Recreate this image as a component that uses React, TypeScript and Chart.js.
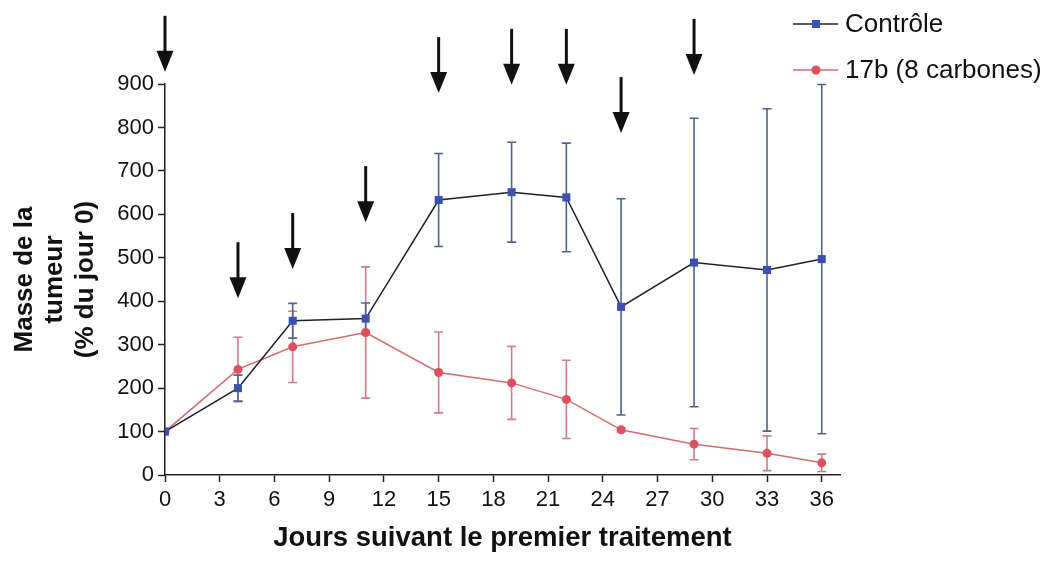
import React, { useEffect, useRef } from "react";
import { Chart, registerables } from "chart.js";
Chart.register(...registerables);

const days = [0, 4, 7, 11, 15, 19, 22, 25, 29, 33, 36];
const controlValues = [100, 200, 355, 360, 633, 651, 639, 387, 489, 472, 497];
const controlErrors = [0, 30, 40, 36, 107, 115, 125, 249, 332, 371, 402];
const treatedValues = [100, 243, 295, 328, 236, 212, 174, 104, 71, 50, 28];
const treatedErrors = [0, 74, 82, 151, 93, 84, 90, 5, 36, 40, 20];
const arrowDays = [0, 4, 7, 11, 15, 19, 22, 25, 29];
const arrowTipValues = [928, 407, 474, 582, 879, 898, 898, 787, 921];
const xTicks = [0, 3, 6, 9, 12, 15, 18, 21, 24, 27, 30, 33, 36];
const seriesLabels = ["Contrôle", "17b (8 carbones)"];
const xTitle = "Jours suivant le premier traitement";
const yTitle = ["Masse de la", "tumeur", "(% du jour 0)"];

const FONT = "'Liberation Sans', Arial, Helvetica, sans-serif";
const BLUE = "#3b50b4";
const BLUE_LINE = "#1e2030";
const BLUE_ERR = "#4f6390";
const RED = "#e0505c";
const RED_LINE = "#d46a72";
const RED_ERR = "#cf7e86";

export default function App() {
  const ref = useRef<HTMLCanvasElement>(null);

  useEffect(() => {
    document.body.style.margin = "0";
    const canvas = ref.current;
    if (!canvas) return;

    const errorBars = {
      id: "errorBars",
      beforeDatasetsDraw(chart: any) {
        const c = chart.ctx;
        const ys = chart.scales.y;
        const order = [1, 0];
        order.forEach((di) => {
          const ds: any = chart.data.datasets[di];
          const meta = chart.getDatasetMeta(di);
          const errs: number[] = ds.errors;
          c.save();
          c.strokeStyle = ds.errorColor;
          c.lineWidth = 1.6;
          meta.data.forEach((pt: any, i: number) => {
            const e = errs[i];
            if (!e) return;
            const v = ds.data[i].y;
            const yTop = ys.getPixelForValue(v + e);
            const yBot = ys.getPixelForValue(Math.max(v - e, 0));
            const x = pt.x;
            c.beginPath();
            c.moveTo(x, yTop);
            c.lineTo(x, yBot);
            c.moveTo(x - 4.5, yTop);
            c.lineTo(x + 4.5, yTop);
            c.moveTo(x - 4.5, yBot);
            c.lineTo(x + 4.5, yBot);
            c.stroke();
          });
          c.restore();
        });
      },
    };

    const arrows = {
      id: "arrows",
      afterDraw(chart: any) {
        const c = chart.ctx;
        const xs = chart.scales.x;
        const ys = chart.scales.y;
        c.save();
        c.fillStyle = "#111";
        c.strokeStyle = "#111";
        arrowDays.forEach((d, i) => {
          const x = xs.getPixelForValue(d);
          const tip = ys.getPixelForValue(arrowTipValues[i]);
          c.lineWidth = 3;
          c.beginPath();
          c.moveTo(x, tip - 56);
          c.lineTo(x, tip - 18);
          c.stroke();
          c.beginPath();
          c.moveTo(x - 8.5, tip - 21);
          c.lineTo(x + 8.5, tip - 21);
          c.lineTo(x, tip);
          c.closePath();
          c.fill();
        });
        c.restore();
      },
    };

    const legend = {
      id: "customLegend",
      afterDraw(chart: any) {
        const c = chart.ctx;
        c.save();
        const rows = [24, 70];
        chart.data.datasets.forEach((ds: any, i: number) => {
          const y = rows[i];
          c.strokeStyle = ds.borderColor;
          c.lineWidth = 1.5;
          c.beginPath();
          c.moveTo(793, y);
          c.lineTo(838, y);
          c.stroke();
          c.fillStyle = ds.pointBackgroundColor;
          if (ds.pointStyle === "rect") {
            c.fillRect(812, y - 4, 8, 8);
          } else {
            c.beginPath();
            c.arc(816, y, 4.5, 0, Math.PI * 2);
            c.fill();
          }
          c.fillStyle = "#111";
          c.font = `26px ${FONT}`;
          c.textAlign = "left";
          c.textBaseline = "middle";
          c.fillText(ds.label, 845, y + 1);
        });
        c.restore();
      },
    };

    const chart = new Chart(canvas, {
      type: "line",
      data: {
        datasets: [
          {
            label: seriesLabels[0],
            data: days.map((d, i) => ({ x: d, y: controlValues[i] })),
            borderColor: BLUE_LINE,
            borderWidth: 1.5,
            pointStyle: "rect",
            pointRadius: 5.7,
            pointBackgroundColor: BLUE,
            pointBorderColor: BLUE,
            pointBorderWidth: 0,
            errors: controlErrors,
            errorColor: BLUE_ERR,
          } as any,
          {
            label: seriesLabels[1],
            data: days.map((d, i) => ({ x: d, y: treatedValues[i] })),
            borderColor: RED_LINE,
            borderWidth: 1.5,
            pointStyle: "circle",
            pointRadius: 4.5,
            pointBackgroundColor: RED,
            pointBorderColor: RED,
            pointBorderWidth: 0,
            errors: treatedErrors,
            errorColor: RED_ERR,
          } as any,
        ],
      },
      options: {
        responsive: false,
        animation: false,
        devicePixelRatio: 1,
        layout: { padding: { top: 84, right: 213, left: 0, bottom: 0 } },
        plugins: {
          legend: { display: false },
          tooltip: { enabled: false },
        },
        scales: {
          x: {
            type: "linear",
            min: 0,
            max: 37,
            afterBuildTicks(scale: any) {
              scale.ticks = xTicks.map((v) => ({ value: v }));
            },
            afterFit(scale: any) {
              scale.height = 93;
            },
            ticks: {
              color: "#111",
              font: { family: FONT, size: 22 },
              padding: 5,
              maxRotation: 0,
              autoSkip: false,
            },
            grid: {
              drawOnChartArea: false,
              drawTicks: true,
              tickLength: 7,
              tickColor: "#222",
              tickWidth: 1.5,
            },
            border: { display: true, color: "#222", width: 1.5 },
            title: {
              display: true,
              text: xTitle,
              color: "#111",
              font: { family: FONT, size: 27.5, weight: "bold", lineHeight: 1.2 },
              padding: { top: 0, bottom: 13 },
            },
          },
          y: {
            type: "linear",
            min: 0,
            max: 900,
            afterFit(scale: any) {
              scale.width = 165;
            },
            ticks: {
              stepSize: 100,
              color: "#111",
              font: { family: FONT, size: 22 },
              padding: 4,
            },
            grid: {
              drawOnChartArea: false,
              drawTicks: true,
              tickLength: 7,
              tickColor: "#222",
              tickWidth: 1.5,
            },
            border: { display: true, color: "#222", width: 1.5 },
            title: {
              display: true,
              text: yTitle,
              color: "#111",
              font: { family: FONT, size: 26, weight: "bold", lineHeight: 1.18 },
              padding: { top: 9, bottom: 0 },
            },
          },
        },
      } as any,
      plugins: [errorBars, arrows, legend],
    });

    return () => chart.destroy();
  }, []);

  return (
    <div style={{ width: 1053, height: 568 }}>
      <canvas ref={ref} width={1053} height={568} style={{ display: "block" }} />
    </div>
  );
}
